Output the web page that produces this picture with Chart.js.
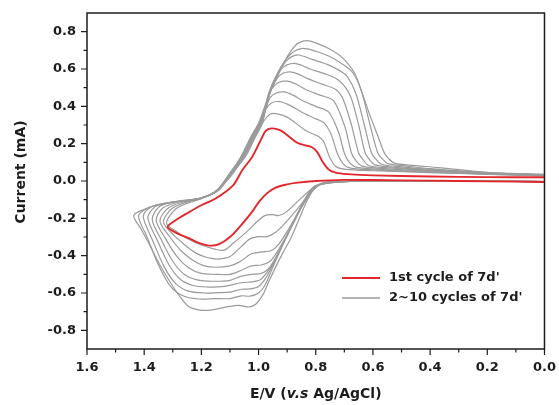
<!DOCTYPE html>
<html>
<head>
<meta charset="utf-8">
<script src="https://cdn.jsdelivr.net/npm/chart.js@4.4.1/dist/chart.umd.min.js"></script>
<style>html,body{margin:0;background:#fff}canvas{display:block}</style>
</head>
<body>
<canvas id="cv" width="559" height="405"></canvas>
<script>
'use strict';

/* ticks */
const xTicks = [1.6, 1.4, 1.2, 1.0, 0.8, 0.6, 0.4, 0.2, 0.0];
const xMinor = [1.5, 1.3, 1.1, 0.9, 0.7, 0.5, 0.3, 0.1];
const yTicks = [-0.8, -0.6, -0.4, -0.2, 0.0, 0.2, 0.4, 0.6, 0.8];
const yMinor = [-0.7, -0.5, -0.3, -0.1, 0.1, 0.3, 0.5, 0.7];

/* legend labels */
const labelFirst = "1st cycle of 7d'";
const labelRest = "2~10 cycles of 7d'";

/* [E (V), I (mA)] — anodic sweep out to the vertex, then cathodic sweep back */
const cycle1 = [[0.00,0.020],[0.20,0.021],[0.40,0.024],[0.60,0.030],[0.69,0.037],[0.73,0.045],[0.755,0.062],[0.775,0.100],[0.795,0.155],[0.815,0.182],[0.84,0.192],[0.865,0.205],[0.895,0.240],[0.925,0.272],[0.955,0.282],[0.975,0.268],[0.992,0.220],[1.022,0.130],[1.056,0.060],[1.09,-0.025],[1.15,-0.094],[1.20,-0.130],[1.242,-0.166],[1.29,-0.210],[1.318,-0.246],
  [1.283,-0.282],[1.242,-0.308],[1.207,-0.333],[1.172,-0.346],[1.14,-0.340],[1.10,-0.300],[1.06,-0.235],[1.02,-0.160],[0.998,-0.110],[0.97,-0.065],[0.94,-0.035],[0.90,-0.018],[0.87,-0.010],[0.80,0.000],[0.70,0.006],[0.60,0.005],[0.40,0.002],[0.20,-0.002],[0.00,-0.005]];

const cycle2 = [[0.00,0.028],[0.20,0.036],[0.40,0.045],[0.60,0.055],[0.70,0.064],[0.73,0.078],[0.752,0.130],[0.772,0.210],[0.79,0.238],[0.835,0.270],[0.87,0.310],[0.90,0.342],[0.935,0.360],[0.96,0.358],[0.982,0.320],[1.003,0.260],[1.028,0.190],[1.058,0.110],[1.10,0.020],[1.15,-0.055],[1.20,-0.095],[1.25,-0.120],[1.29,-0.150],[1.322,-0.226],
  [1.29,-0.268],[1.25,-0.308],[1.20,-0.343],[1.15,-0.366],[1.12,-0.370],[1.09,-0.335],[1.04,-0.270],[1.00,-0.210],[0.975,-0.183],[0.95,-0.180],[0.93,-0.185],[0.905,-0.168],[0.86,-0.105],[0.82,-0.050],[0.79,-0.020],[0.75,-0.006],[0.60,0.000],[0.30,0.000],[0.00,-0.003]];

const cycle3 = [[0.00,0.029],[0.20,0.037],[0.40,0.048],[0.60,0.060],[0.685,0.072],[0.708,0.100],[0.725,0.150],[0.745,0.245],[0.77,0.310],[0.81,0.340],[0.85,0.370],[0.89,0.405],[0.925,0.425],[0.955,0.418],[0.976,0.380],[0.986,0.310],[1.01,0.240],[1.046,0.130],[1.10,0.030],[1.14,-0.050],[1.20,-0.093],[1.26,-0.117],[1.305,-0.150],[1.333,-0.220],
  [1.30,-0.285],[1.26,-0.340],[1.22,-0.385],[1.18,-0.410],[1.14,-0.418],[1.10,-0.405],[1.06,-0.350],[1.03,-0.310],[1.00,-0.298],[0.97,-0.298],[0.94,-0.275],[0.91,-0.230],[0.87,-0.160],[0.83,-0.085],[0.80,-0.035],[0.77,-0.010],[0.70,-0.002],[0.40,0.000],[0.00,-0.003]];

const cycle4 = [[0.00,0.030],[0.20,0.038],[0.40,0.050],[0.58,0.063],[0.662,0.076],[0.685,0.105],[0.70,0.150],[0.72,0.260],[0.755,0.370],[0.80,0.400],[0.845,0.430],[0.88,0.460],[0.91,0.477],[0.94,0.470],[0.96,0.445],[0.972,0.400],[0.988,0.310],[1.014,0.240],[1.05,0.130],[1.10,0.030],[1.14,-0.050],[1.20,-0.093],[1.27,-0.115],[1.32,-0.150],[1.345,-0.215],
  [1.31,-0.300],[1.27,-0.375],[1.23,-0.425],[1.19,-0.455],[1.15,-0.462],[1.10,-0.455],[1.065,-0.432],[1.025,-0.390],[0.99,-0.380],[0.955,-0.372],[0.93,-0.340],[0.90,-0.270],[0.87,-0.190],[0.84,-0.110],[0.81,-0.050],[0.78,-0.015],[0.70,-0.003],[0.40,0.000],[0.00,-0.003]];

const cycle5 = [[0.00,0.031],[0.20,0.039],[0.40,0.053],[0.56,0.066],[0.638,0.080],[0.66,0.110],[0.675,0.150],[0.698,0.290],[0.738,0.430],[0.785,0.460],[0.835,0.490],[0.87,0.520],[0.90,0.535],[0.93,0.528],[0.955,0.490],[0.973,0.400],[0.99,0.310],[1.016,0.240],[1.052,0.130],[1.101,0.030],[1.141,-0.050],[1.20,-0.092],[1.28,-0.113],[1.335,-0.145],[1.358,-0.210],
  [1.325,-0.310],[1.285,-0.405],[1.245,-0.465],[1.20,-0.495],[1.15,-0.500],[1.10,-0.500],[1.06,-0.478],[1.025,-0.455],[0.99,-0.450],[0.96,-0.430],[0.935,-0.380],[0.905,-0.300],[0.875,-0.215],[0.845,-0.130],[0.815,-0.060],[0.785,-0.018],[0.70,-0.003],[0.40,0.000],[0.00,-0.003]];

const cycle6 = [[0.00,0.032],[0.20,0.040],[0.40,0.056],[0.54,0.070],[0.615,0.083],[0.635,0.115],[0.65,0.150],[0.675,0.300],[0.705,0.440],[0.73,0.490],[0.78,0.520],[0.83,0.550],[0.865,0.575],[0.89,0.585],[0.915,0.577],[0.935,0.550],[0.955,0.490],[0.974,0.400],[0.992,0.310],[1.018,0.240],[1.054,0.130],[1.102,0.030],[1.142,-0.050],[1.20,-0.092],[1.29,-0.112],[1.345,-0.135],[1.372,-0.205],
  [1.34,-0.315],[1.30,-0.430],[1.26,-0.500],[1.215,-0.530],[1.16,-0.537],[1.10,-0.532],[1.06,-0.510],[1.025,-0.500],[0.99,-0.495],[0.965,-0.470],[0.94,-0.410],[0.91,-0.320],[0.88,-0.230],[0.85,-0.140],[0.82,-0.065],[0.79,-0.020],[0.70,-0.003],[0.40,0.000],[0.00,-0.003]];

const cycle7 = [[0.00,0.033],[0.20,0.041],[0.40,0.059],[0.52,0.073],[0.592,0.086],[0.612,0.115],[0.627,0.150],[0.65,0.300],[0.68,0.460],[0.72,0.540],[0.77,0.575],[0.82,0.600],[0.85,0.620],[0.875,0.630],[0.90,0.622],[0.92,0.600],[0.94,0.540],[0.956,0.490],[0.975,0.400],[0.994,0.310],[1.02,0.240],[1.056,0.130],[1.103,0.030],[1.143,-0.050],[1.20,-0.091],[1.29,-0.111],[1.35,-0.130],[1.372,-0.152],[1.387,-0.200],
  [1.355,-0.315],[1.315,-0.445],[1.275,-0.525],[1.23,-0.560],[1.18,-0.568],[1.12,-0.565],[1.06,-0.545],[1.025,-0.540],[0.995,-0.530],[0.97,-0.490],[0.945,-0.430],[0.915,-0.340],[0.885,-0.245],[0.855,-0.150],[0.825,-0.070],[0.795,-0.022],[0.70,-0.003],[0.40,0.000],[0.00,-0.003]];

const cycle8 = [[0.00,0.034],[0.20,0.043],[0.40,0.062],[0.50,0.076],[0.57,0.090],[0.59,0.118],[0.605,0.150],[0.63,0.300],[0.66,0.470],[0.69,0.560],[0.715,0.590],[0.76,0.625],[0.81,0.650],[0.86,0.675],[0.885,0.665],[0.905,0.640],[0.931,0.580],[0.957,0.490],[0.976,0.400],[0.996,0.310],[1.022,0.240],[1.058,0.130],[1.104,0.030],[1.144,-0.050],[1.20,-0.091],[1.29,-0.111],[1.36,-0.130],[1.39,-0.155],[1.403,-0.195],
  [1.37,-0.320],[1.33,-0.460],[1.29,-0.550],[1.245,-0.590],[1.19,-0.600],[1.14,-0.598],[1.10,-0.595],[1.06,-0.580],[1.03,-0.578],[1.00,-0.565],[0.975,-0.520],[0.95,-0.450],[0.92,-0.355],[0.89,-0.260],[0.86,-0.165],[0.83,-0.080],[0.80,-0.025],[0.70,-0.003],[0.40,0.000],[0.00,-0.003]];

const cycle9 = [[0.00,0.035],[0.20,0.044],[0.40,0.066],[0.48,0.080],[0.548,0.093],[0.568,0.120],[0.583,0.150],[0.61,0.300],[0.64,0.480],[0.67,0.580],[0.71,0.630],[0.755,0.670],[0.80,0.695],[0.845,0.710],[0.875,0.695],[0.90,0.660],[0.932,0.580],[0.958,0.490],[0.977,0.400],[0.998,0.310],[1.024,0.240],[1.06,0.130],[1.105,0.030],[1.145,-0.050],[1.20,-0.090],[1.29,-0.110],[1.36,-0.130],[1.40,-0.155],[1.42,-0.190],
  [1.39,-0.300],[1.35,-0.450],[1.31,-0.560],[1.265,-0.615],[1.21,-0.632],[1.15,-0.630],[1.10,-0.630],[1.06,-0.615],[1.03,-0.617],[1.00,-0.600],[0.978,-0.560],[0.955,-0.480],[0.925,-0.375],[0.895,-0.275],[0.865,-0.180],[0.835,-0.090],[0.805,-0.030],[0.70,-0.003],[0.40,0.000],[0.00,-0.003]];

const cycle10 = [[0.00,0.036],[0.20,0.046],[0.37,0.072],[0.47,0.085],[0.525,0.096],[0.545,0.120],[0.56,0.150],[0.585,0.250],[0.61,0.350],[0.635,0.460],[0.665,0.580],[0.71,0.665],[0.755,0.710],[0.80,0.740],[0.83,0.752],[0.86,0.740],[0.88,0.710],[0.902,0.660],[0.933,0.580],[0.96,0.490],[0.978,0.400],[1.00,0.310],[1.026,0.240],[1.062,0.130],[1.106,0.030],[1.146,-0.050],[1.20,-0.090],[1.29,-0.110],[1.36,-0.130],[1.405,-0.155],[1.437,-0.185],
  [1.41,-0.260],[1.38,-0.345],[1.345,-0.450],[1.31,-0.540],[1.275,-0.620],[1.245,-0.672],[1.21,-0.690],[1.17,-0.692],[1.115,-0.676],[1.07,-0.666],[1.035,-0.675],[1.01,-0.660],[0.985,-0.610],[0.963,-0.535],[0.94,-0.460],[0.915,-0.385],[0.885,-0.300],[0.86,-0.210],[0.835,-0.120],[0.81,-0.050],[0.785,-0.015],[0.76,-0.004],[0.60,0.000],[0.30,0.000],[0.00,-0.002]];

const laterCycles = [cycle2, cycle3, cycle4, cycle5, cycle6, cycle7, cycle8, cycle9, cycle10];

const RED = '#e3262b', GREY = '#9b9b9b', INK = '#1c1c1c';
const FAM = '"DejaVu Sans", "Liberation Sans", sans-serif';
const tickFont = { family: FAM, weight: 'bold', size: 13 };

/* frame, outward ticks, legend and axis titles */
const decor = {
  id: 'decor',
  afterDraw(c) {
    const { ctx, chartArea: a, scales: { x, y } } = c;
    ctx.save();
    ctx.strokeStyle = INK;
    ctx.lineWidth = 1.5;
    ctx.strokeRect(a.left, a.top, a.right - a.left, a.bottom - a.top);
    ctx.lineWidth = 1.2;
    ctx.beginPath();
    xTicks.forEach(v => { const p = x.getPixelForValue(v); ctx.moveTo(p, a.bottom); ctx.lineTo(p, a.bottom + 6); });
    xMinor.forEach(v => { const p = x.getPixelForValue(v); ctx.moveTo(p, a.bottom); ctx.lineTo(p, a.bottom + 3.5); });
    yTicks.forEach(v => { const p = y.getPixelForValue(v); ctx.moveTo(a.left - 6, p); ctx.lineTo(a.left, p); });
    yMinor.forEach(v => { const p = y.getPixelForValue(v); ctx.moveTo(a.left - 3.5, p); ctx.lineTo(a.left, p); });
    ctx.stroke();

    // legend
    ctx.lineWidth = 2; ctx.strokeStyle = RED;
    ctx.beginPath(); ctx.moveTo(342, 278); ctx.lineTo(380, 278); ctx.stroke();
    ctx.lineWidth = 1.3; ctx.strokeStyle = GREY;
    ctx.beginPath(); ctx.moveTo(342, 298); ctx.lineTo(380, 298); ctx.stroke();
    ctx.fillStyle = INK;
    ctx.font = `bold 13px ${FAM}`;
    ctx.textAlign = 'left'; ctx.textBaseline = 'middle';
    ctx.fillText(labelFirst, 389, 278);
    ctx.fillText(labelRest, 389, 298);

    // x title, "v.s" in italics
    const parts = [['E/V (', 'bold'], ['v.s', 'italic bold'], [' Ag/AgCl)', 'bold']];
    let w = 0;
    parts.forEach(p => { ctx.font = `${p[1]} 14px ${FAM}`; w += ctx.measureText(p[0]).width; });
    let px = (a.left + a.right) / 2 - w / 2;
    parts.forEach(p => { ctx.font = `${p[1]} 14px ${FAM}`; ctx.fillText(p[0], px, 394); px += ctx.measureText(p[0]).width; });

    // y title
    ctx.translate(21, 172);
    ctx.rotate(-Math.PI / 2);
    ctx.textAlign = 'center';
    ctx.font = `bold 14px ${FAM}`;
    ctx.fillText('Current (mA)', 0, 0);
    ctx.restore();
  }
};

const datasets = [{ data: cycle1, borderColor: RED, borderWidth: 1.9 }]
  .concat(laterCycles.map(d => ({ data: d, borderColor: GREY, borderWidth: 1.2 })));

new Chart(document.getElementById('cv'), {
  type: 'scatter',
  data: { datasets: datasets.map(d => ({ ...d, showLine: true, fill: false, pointRadius: 0, tension: 0.3 })) },
  options: {
    responsive: false, animation: false, devicePixelRatio: 1,
    layout: { padding: { top: 13, right: 12, left: 0, bottom: 0 } },
    plugins: { legend: { display: false }, tooltip: { enabled: false } },
    scales: {
      x: {
        type: 'linear', min: 0, max: 1.6, reverse: true,
        afterBuildTicks: s => { s.ticks = xTicks.map(v => ({ value: v })); },
        afterFit: s => { s.height = 56; },
        grid: { display: false, drawTicks: true, tickLength: 8 }, border: { display: false },
        ticks: { padding: 3, color: INK, font: tickFont, autoSkip: false, maxRotation: 0, callback: v => v.toFixed(1) },
      },
      y: {
        type: 'linear', min: -0.9, max: 0.9,
        afterBuildTicks: s => { s.ticks = yTicks.map(v => ({ value: v })); },
        afterFit: s => { s.width = 87; },
        grid: { display: false, drawTicks: true, tickLength: 8 }, border: { display: false },
        ticks: { padding: 3, color: INK, font: tickFont, autoSkip: false, callback: v => v.toFixed(1) },
      },
    },
  },
  plugins: [decor],
});
</script>
</body>
</html>
